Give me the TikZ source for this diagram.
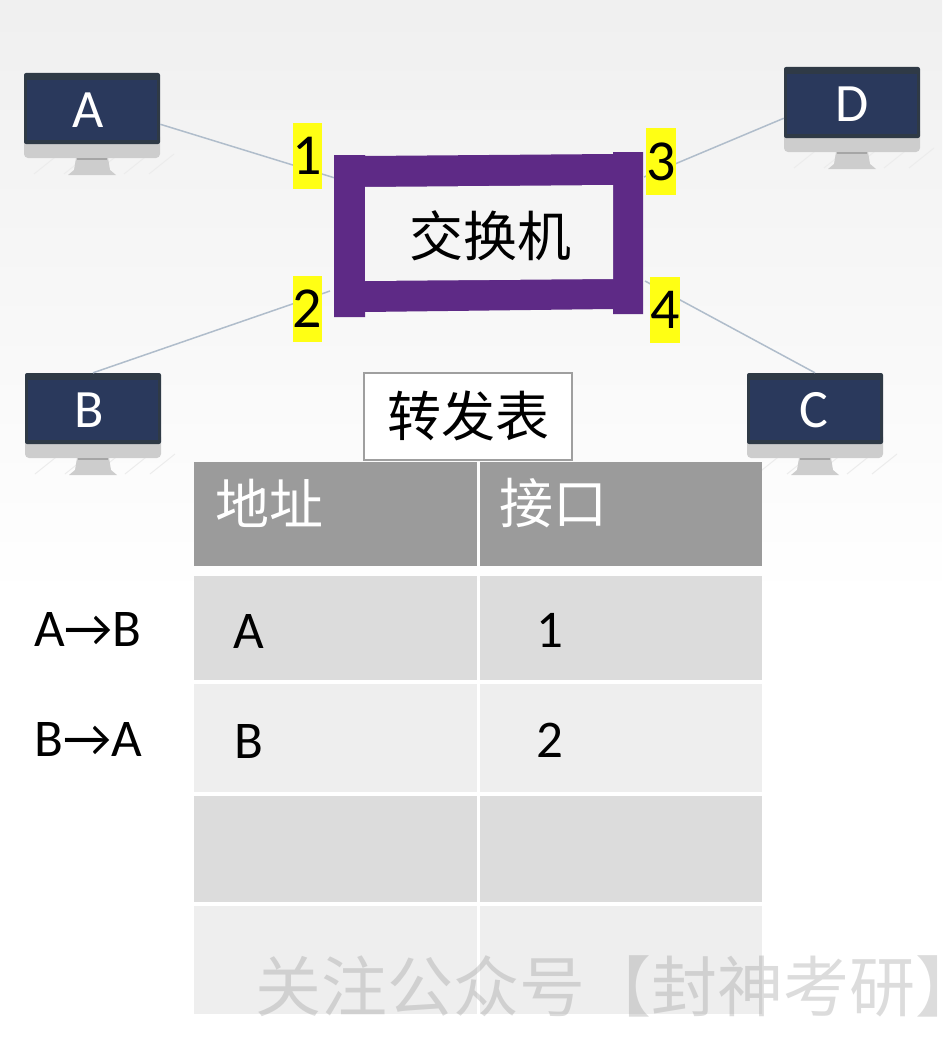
\documentclass[tikz,border=0pt]{standalone}
\usepackage{fontspec}
\setmainfont{Carlito}
\newfontfamily\cjk{Noto Sans CJK SC}
\usetikzlibrary{positioning}
\definecolor{swpurple}{HTML}{5E2A86}
\definecolor{scrnavy}{HTML}{2A395C}
\definecolor{scrframe}{HTML}{2F3A46}
\definecolor{chingray}{HTML}{CDCDCD}
\definecolor{linkblue}{HTML}{B0BDCB}
\definecolor{hdgray}{HTML}{9B9B9B}
\definecolor{rowdark}{HTML}{DCDCDC}
\definecolor{rowlight}{HTML}{EEEEEE}
\definecolor{portyel}{HTML}{FFFF14}
\tikzset{
  pcframe/.style = {fill=scrframe, rounded corners=2pt, minimum width=136pt, minimum height=71pt, inner sep=0pt},
  pcscreen/.style = {fill=scrnavy, text=white, minimum width=130pt, minimum height=60pt, inner sep=0pt, font=\fontsize{54}{60}\selectfont},
  port/.style = {fill=portyel, minimum width=29pt, minimum height=66pt, inner sep=0pt, font=\fontsize{58}{62}\selectfont},
  link/.style = {draw=linkblue, line width=1.5pt},
  zhbig/.style = {inner sep=0pt, font=\cjk\fontsize{54}{60}\selectfont},
  zhhead/.style = {inner sep=0pt, text=white, font=\cjk\fontsize{54}{60}\selectfont},
  cell/.style = {inner sep=0pt, font=\fontsize{53}{58}\selectfont},
}
% name, left, top, label, label shift
\newcommand{\monitor}[5]{
  \begin{scope}[shift={(#2,#3)}]
    \foreach \hx in {10,40,70,100,125}
      \draw[gray!15, line width=1pt] (\hx,101) -- (\hx+25,81);
    \fill[chingray, rounded corners=4pt] (0,60) rectangle (136,85);
    \fill[chingray] (52,85) -- (84,85) -- (86,97) -- (92,102) -- (44,102) -- (50,97) -- cycle;
    \fill[gray!70] (53,85) rectangle (83,87);
    \node[pcframe] (#1) at (68,35.5) {};
    \node[pcscreen] (#1s) at (68,37) {};
    \node[inner sep=0pt, text=white, font=\fontsize{54}{60}\selectfont] (#1t) at (68+#5,37) {#4};
  \end{scope}
}
\begin{document}
\begin{tikzpicture}[x=1pt, y=-1pt]
\useasboundingbox (0,0) rectangle (942,1046);
\clip (0,0) rectangle (942,1046);
\fill[white] (0,0) rectangle (942,1046);
\shade[top color=black!6, bottom color=white] (0,0) rectangle (942,600);

\monitor{A}{24}{73}{A}{-4}
\monitor{B}{25}{373}{B}{-4}
\monitor{D}{784}{67}{D}{0}
\monitor{C}{747}{373}{C}{-1}

% switch
\coordinate (sw1) at (335,178);
\coordinate (sw2) at (330,291);
\coordinate (sw3) at (644,177);
\coordinate (sw4) at (645,281);
\draw[link] (A.-13) -- (sw1);
\draw[link] (B.north) -- (sw2);
\draw[link] (D.193) -- (sw3);
\draw[link] (C.north) -- (sw4);
\fill[swpurple] (334,155) -- (365,155) -- (365,156) -- (613,154) -- (613,152) -- (643,152) -- (643,314) -- (613,314) -- (613,309) -- (365,312) -- (365,317) -- (334,317) -- cycle;
\fill[white!96!black] (365,187) -- (613,185) -- (613,279) -- (365,281) -- cycle;
\node[zhbig] (sw) at (490,236) {交换机};

\node[port] (p1) at (307.5,156) {1};
\node[port] (p2) at (307.5,308.5) {2};
\node[port] (p3) at (661,161.5) {3};
\node[port] (p4) at (665,310) {4};

% forwarding table
\node[zhbig, draw=gray!75, line width=2pt, fill=white, minimum width=208pt, minimum height=87pt] (title) at (468,416) {转发表};
\foreach \rowname/\ytop/\ybot/\rowcol in {h/462/566/hdgray, r1/576/680/rowdark, r2/684/792/rowlight, r3/796/902/rowdark, r4/906/1014/rowlight}{
  \fill[\rowcol] (194,\ytop) rectangle (477,\ybot);
  \fill[\rowcol] (480,\ytop) rectangle (762,\ybot);
}
\node[zhhead] (addr) at (269,503) {地址};
\node[zhhead] (iface) at (553,503) {接口};
\node[cell] (ca) at (249,631) {A};
\node[cell] (c1) at (550,630) {1};
\node[cell] (cb) at (249,741) {B};
\node[cell] (c2) at (550,740) {2};
\node[cell] (ab) at (88,629) {A→B};
\node[cell] (ba) at (88,739) {B→A};

\node[anchor=west, inner sep=0pt, text=black!45, opacity=.3, font=\cjk\fontsize{66}{70}\selectfont] (wm) at (255,986) {关注公众号【封神考研】};
\end{tikzpicture}
\end{document}
